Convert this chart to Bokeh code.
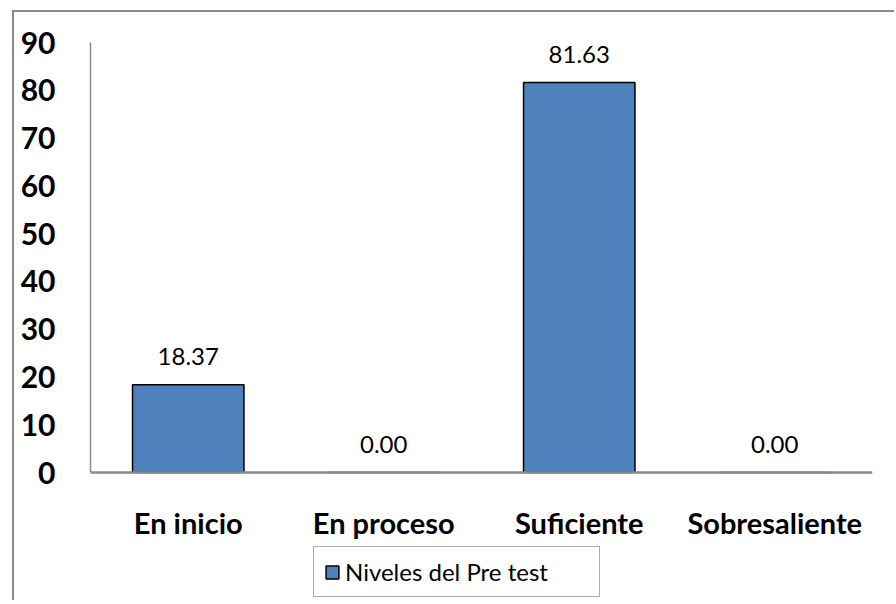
from bokeh.plotting import figure
from bokeh.models import ColumnDataSource, FactorRange, Range1d, FixedTicker, Legend, LegendItem
from bokeh.embed import file_html
from bokeh.resources import INLINE
from bokeh.core.properties import value

categories = ["En inicio", "En proceso", "Suficiente", "Sobresaliente"]
values = [18.37, 0.00, 81.63, 0.00]
labels = ["18.37", "0.00", "81.63", "0.00"]
y_ticks = [0, 10, 20, 30, 40, 50, 60, 70, 80, 90]
series_name = "Niveles del Pre test"

src = ColumnDataSource(dict(cat=categories, val=values, lab=labels))

p = figure(x_range=FactorRange(*categories, range_padding=0), y_range=Range1d(-27.2, 90),
           width=882, height=590, output_backend="svg", toolbar_location=None,
           min_border_left=76, min_border_top=30, min_border_right=24, min_border_bottom=0)
p.margin = (10, 0, 0, 12)
p.styles = {"border-left": "2px solid #8a8a8a", "border-top": "2px solid #8a8a8a"}
p.outline_line_color = None
p.xgrid.grid_line_color = None
p.ygrid.grid_line_color = None

r = p.vbar(x="cat", top="val", width=0.57, source=src, fill_color="#4F81BD",
           line_color="#000000", line_width=1.5)

p.yaxis.ticker = FixedTicker(ticks=y_ticks)
p.yaxis.bounds = (0, 90)
p.yaxis.major_label_text_font = "Lato"
p.yaxis.major_label_text_font_style = "bold"
p.yaxis.major_label_text_font_size = "30px"
p.yaxis.major_label_text_color = "#000000"
p.yaxis.major_tick_line_color = None
p.yaxis.minor_tick_line_color = None
p.yaxis.axis_line_color = "#8a8a8a"
p.yaxis.axis_line_width = 1.5
p.yaxis.major_label_standoff = 29

p.xaxis.fixed_location = 0
p.xaxis.major_label_text_font = "Lato"
p.xaxis.major_label_text_font_style = "bold"
p.xaxis.major_label_text_font_size = "29px"
p.xaxis.major_label_text_color = "#000000"
p.xaxis.major_tick_line_color = None
p.xaxis.minor_tick_line_color = None
p.xaxis.axis_line_color = "#8a8a8a"
p.xaxis.axis_line_width = 2.5
p.xaxis.major_label_standoff = 26

p.text(x="cat", y="val", text="lab", source=src, text_align="center",
       text_baseline="alphabetic", y_offset=-28, text_font=value("Lato"),
       text_font_size="24px", text_color="#000000")

legend = Legend(items=[LegendItem(label=series_name, renderers=[r])],
                location=(223, 5), orientation="horizontal",
                label_text_font="Lato", label_text_font_size="24px",
                label_text_color="#000000", glyph_width=16, glyph_height=16,
                label_standoff=5, padding=10, margin=0,
                border_line_color="#595959", border_line_width=1.5,
                label_width=244, label_height=22)
p.add_layout(legend, "center")

open("out.html", "w").write(file_html(p, INLINE))
